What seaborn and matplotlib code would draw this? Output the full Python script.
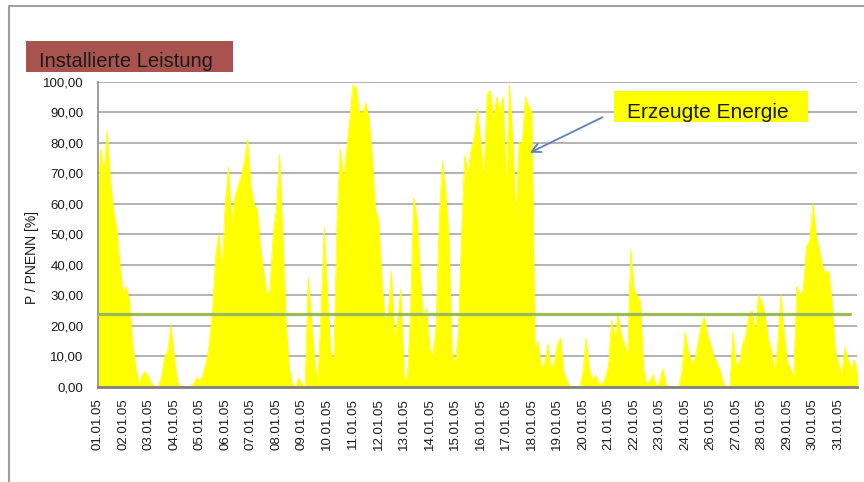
import numpy as np
import pandas as pd
import matplotlib
matplotlib.use("Agg")
import matplotlib.pyplot as plt
from matplotlib.patches import Rectangle
from matplotlib.lines import Line2D
import seaborn as sns

# Achsenbeschriftung (der 25.01. fehlt in der Vorlage)
tage = ['01.01.05', '02.01.05', '03.01.05', '04.01.05', '05.01.05', '06.01.05',
        '07.01.05', '08.01.05', '09.01.05', '10.01.05', '11.01.05', '12.01.05',
        '13.01.05', '14.01.05', '15.01.05', '16.01.05', '17.01.05', '18.01.05',
        '19.01.05', '20.01.05', '21.01.05', '22.01.05', '23.01.05', '24.01.05',
        '26.01.05', '27.01.05', '28.01.05', '29.01.05', '30.01.05', '31.01.05']
y_ticks = [0, 10, 20, 30, 40, 50, 60, 70, 80, 90, 100]

# Erzeugte Leistung P/Pnenn [%], 3-Stunden-Werte (8 pro Tag), aus dem Bild geschaetzt
werte_pro_tag = 8
leistung = [
    62, 78, 70, 84, 68, 58, 52, 40,   # 01.
    31, 33, 28, 14, 6, 1, 4, 5,       # 02.
    3, 1, 0, 0, 3, 10, 12, 20,        # 03.
    10, 2, 0, 0, 0, 0, 1, 3,          # 04.
    2, 4, 8, 14, 25, 43, 50, 38,      # 05.
    60, 72, 54, 62, 66, 69, 74, 81,   # 06.
    66, 60, 58, 46, 38, 30, 32, 50,   # 07.
    58, 76, 50, 22, 6, 1, 0, 3,       # 08.
    1, 0, 36, 22, 8, 2, 25, 52,       # 09.
    30, 12, 8, 55, 78, 68, 78, 88,    # 10.
    99, 98, 90, 90, 93, 88, 76, 58,   # 11.
    55, 36, 22, 24, 38, 16, 22, 32,   # 12.
    3, 3, 24, 62, 56, 38, 22, 26,     # 13.
    13, 10, 20, 55, 74, 64, 50, 12,   # 14.
    7, 18, 50, 76, 70, 78, 82, 91,    # 15.
    80, 69, 96, 97, 88, 95, 91, 95,   # 16.
    66, 99, 82, 55, 80, 80, 95, 92,   # 17.
    90, 12, 15, 6, 8, 14, 6, 8,       # 18.
    14, 16, 5, 2, 0, 0, 0, 0,         # 19.
    5, 16, 6, 2, 4, 1, 1, 3,          # 20.
    7, 22, 16, 24, 17, 14, 10, 45,    # 21.
    32, 30, 28, 6, 1, 2, 4, 0,        # 22.
    2, 6, 1, 0, 0, 0, 0, 5,           # 23.
    18, 12, 8, 9, 14, 20, 23, 17,     # 24.
    14, 10, 8, 5, 1, 0, 0, 18,        # 25.
    7, 8, 14, 17, 24, 25, 18, 30,     # 27.
    28, 24, 16, 12, 5, 14, 30, 18,    # 28.
    8, 6, 3, 33, 30, 32, 46, 48,      # 29.
    60, 50, 45, 40, 37, 38, 28, 12,   # 30.
    8, 4, 13, 9, 6, 9, 4,             # 31.
]
installiert = 24  # installierte Leistung [%]

zeit = np.arange(len(leistung)) / werte_pro_tag
df = pd.DataFrame({'zeit': zeit, 'leistung': leistung})

sns.set_style("white")
plt.rcParams['font.family'] = ['Liberation Sans', 'DejaVu Sans']

W, H = 864, 482
fig = plt.figure(figsize=(W / 100, H / 100), dpi=100)
ax = fig.add_axes([97.5 / W, 1 - 387 / H, (857 - 97.5) / W, (387 - 81.7) / H])

# gelbe Flaeche
ax.fill_between(df['zeit'], df['leistung'], color='#ffff00', lw=0, zorder=2)
sns.lineplot(data=df, x='zeit', y='leistung', color='#ffff00', lw=0.6, ax=ax, zorder=2)

# installierte Leistung als gruene Linie
ax.axhline(installiert, xmin=0, xmax=0.991, color='#9bbb59', lw=2.3, zorder=3)

ax.set_xlim(0, 29.73)
ax.set_ylim(0, 100)
ax.set_yticks(y_ticks)
ax.set_yticklabels([f"{v:.2f}".replace('.', ',') for v in y_ticks], fontsize=9.5)
ax.set_xticks(range(len(tage)))
ax.set_xticklabels(tage, rotation=90, fontsize=9.5)
ax.set_xlabel('')
ax.set_ylabel('')

ax.set_axisbelow(True)
ax.yaxis.grid(True, color='#a6a6a6', lw=1.2)
ax.xaxis.grid(False)
for s in ['top', 'right']:
    ax.spines[s].set_visible(False)
ax.spines['left'].set_color('#8c8c8c')
ax.spines['left'].set_linewidth(1.2)
ax.spines['bottom'].set_color('#808080')
ax.spines['bottom'].set_linewidth(2.0)
ax.spines['bottom'].set_zorder(4)
ax.tick_params(axis='x', length=4, width=1, color='#808080', pad=4, labelcolor='#1a1a1a')
ax.tick_params(axis='y', length=0, pad=10, labelcolor='#1a1a1a')

fig.text(32 / W, 1 - 258 / H, 'P / PNENN [%]', rotation=90, ha='center', va='center',
         fontsize=10, color='#1a1a1a')

# Beschriftungsboxen
fig.patches.append(Rectangle((26 / W, 1 - 71.7 / H), (232.7 - 26) / W, 31 / H,
                             facecolor='#a9534f', edgecolor='none', transform=fig.transFigure))
fig.text(39 / W, 1 - 66.7 / H, 'Installierte Leistung', ha='left', va='baseline',
         fontsize=14.5, color='#1a1a1a')

fig.patches.append(Rectangle((614 / W, 1 - 122.3 / H), (808 - 614) / W, 31.3 / H,
                             facecolor='#ffff00', edgecolor='none', transform=fig.transFigure,
                             zorder=5))
fig.text(627 / W, 1 - 117.7 / H, 'Erzeugte Energie', ha='left', va='baseline',
         fontsize=15, color='#1a1a1a', zorder=6)

ax.annotate('', xy=(527.3, H - 154), xycoords='figure pixels',
            xytext=(605, H - 116), textcoords='figure pixels',
            arrowprops=dict(arrowstyle='->', color='#5b7fc0', lw=1.3, mutation_scale=16))

# Rahmen des Diagrammbereichs
fig.lines.append(Line2D([9.3 / W, 9.3 / W], [0, 1 - 6 / H], color='#a0a0a0', lw=1.5,
                        transform=fig.transFigure))
fig.lines.append(Line2D([9.3 / W, 1], [1 - 6 / H, 1 - 6 / H], color='#a0a0a0', lw=1.5,
                        transform=fig.transFigure))

fig.savefig('out.png', dpi=100)
